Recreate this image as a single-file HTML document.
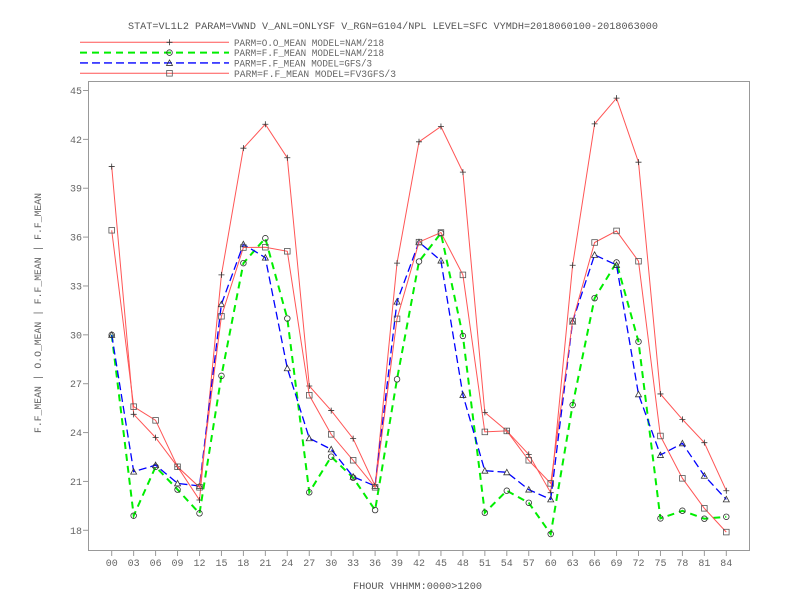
<!DOCTYPE html>
<html><head><meta charset="utf-8"><style>
html,body{margin:0;padding:0;background:#fff;}
svg{display:block;font-family:"Liberation Mono",monospace;}
</style></head><body>
<svg id="chart" width="792" height="612" viewBox="0 0 792 612" xmlns="http://www.w3.org/2000/svg">
<text x="128" y="29" font-size="10" fill="#555" textLength="530" lengthAdjust="spacingAndGlyphs">STAT=VL1L2 PARAM=VWND V_ANL=ONLYSF V_RGN=G104/NPL LEVEL=SFC VYMDH=2018060100-2018063000</text>
<rect x="88.5" y="81.5" width="661" height="469" fill="none" stroke="#999" stroke-width="1"/>
<text transform="translate(41,313) rotate(-90)" font-size="9.7" fill="#666" text-anchor="middle" textLength="240" lengthAdjust="spacingAndGlyphs">F.F_MEAN | O.O_MEAN | F.F_MEAN | F.F_MEAN</text>
<text x="353" y="589" font-size="10" fill="#555" textLength="129" lengthAdjust="spacingAndGlyphs">FHOUR VHHMM:0000&gt;1200</text>
<g id="axes"></g>
<g id="series"></g>
<g id="legend"></g>
</svg>
<script>
const categories = ["00","03","06","09","12","15","18","21","24","27","30","33","36","39","42","45","48","51","54","57","60","63","66","69","72","75","78","81","84"];
const yTicks = [18,21,24,27,30,33,36,39,42,45];
const obsNam = [40.33,25.12,23.69,21.9,19.86,33.68,41.46,42.93,40.87,26.86,25.35,23.63,20.72,34.4,41.85,42.79,39.99,25.24,24.1,22.66,20.31,34.27,42.95,44.53,40.6,26.37,24.81,23.38,20.43];
const fcstNam = [30.0,18.9,21.9,20.5,19.04,27.48,34.4,35.93,31.0,20.33,22.52,21.23,19.24,27.27,34.5,36.24,29.93,19.08,20.43,19.69,17.77,25.69,32.25,34.44,29.58,18.73,19.2,18.71,18.83];
const fcstGfs = [30.0,21.6,22.0,20.88,20.72,31.88,35.56,34.74,27.95,23.65,22.97,21.29,20.72,32.04,35.69,34.56,26.31,21.66,21.56,20.5,19.9,30.81,34.91,34.29,26.35,22.62,23.34,21.35,19.9];
const fcstFv3 = [36.42,25.59,24.75,21.9,20.64,31.14,35.36,35.38,35.13,26.29,23.89,22.3,20.64,30.98,35.69,36.28,33.68,24.04,24.1,22.3,20.88,30.85,35.67,36.38,34.52,23.79,21.19,19.35,17.89];
const seriesLabels = ["PARM=O.O_MEAN MODEL=NAM/218","PARM=F.F_MEAN MODEL=NAM/218","PARM=F.F_MEAN MODEL=GFS/3","PARM=F.F_MEAN MODEL=FV3GFS/3"];

const NS="http://www.w3.org/2000/svg";
function xPos(i){return 111.7 + i*(726.3-111.7)/(categories.length-1);}
function yPos(v){return 90.5 + (45-v)*(530.3-90.5)/27;}
function mk(tag,attrs,parent){const e=document.createElementNS(NS,tag);for(const k in attrs)e.setAttribute(k,attrs[k]);parent.appendChild(e);return e;}
const axes=document.getElementById('axes');
yTicks.forEach(t=>{
  const y=yPos(t);
  const l=mk('line',{x1:83,x2:88.5,y1:y,y2:y,stroke:'#999'},axes);
  
  
  const tx=mk('text',{x:82,y:y+3.5,'font-size':10,fill:'#666','text-anchor':'end'},axes);
  
  
  tx.textContent=t;
});
categories.forEach((c,i)=>{
  const x=xPos(i);
  const l=mk('line',{x1:x,x2:x,y1:550.5,y2:556,stroke:'#999'},axes);
  
  
  const tx=mk('text',{x:x,y:566,'font-size':10,fill:'#666','text-anchor':'middle'},axes);
  
  
  tx.textContent=c;
});
function marker(type,x,y,g){
  let e;
  if(type==='plus'){e=mk('path',{d:`M${x-3} ${y}H${x+3}M${x} ${y-3}V${y+3}`,stroke:'#333','stroke-width':0.8,fill:'none'},g);}
  else if(type==='circle'){e=mk('circle',{cx:x,cy:y,r:2.8,stroke:'#333','stroke-width':0.8,fill:'none'},g);}
  else if(type==='tri'){e=mk('path',{d:`M${x} ${y-3}L${x+3} ${y+2.5}L${x-3} ${y+2.5}Z`,stroke:'#333','stroke-width':0.8,fill:'none'},g);}
  else {e=mk('rect',{x:x-2.8,y:y-2.8,width:5.6,height:5.6,stroke:'#555','stroke-width':0.8,fill:'none'},g);}
  
  
}
const defs=[
  {data:obsNam,color:'#ff5555',w:1,dash:'',m:'plus',name:'series-obs-nam'},
  {data:fcstNam,color:'#00ee00',w:2,dash:'7,5',m:'circle',name:'series-fcst-nam'},
  {data:fcstGfs,color:'#0000ff',w:1.3,dash:'8,4',m:'tri',name:'series-fcst-gfs'},
  {data:fcstFv3,color:'#ff5555',w:1,dash:'',m:'square',name:'series-fcst-fv3gfs'}
];
const legendW=[150,150,138,162];
const sg=document.getElementById('series');
const lg=document.getElementById('legend');
defs.forEach((d,k)=>{
  const g=mk('g',{},sg);
  
  
  const pts=d.data.map((v,i)=>xPos(i).toFixed(1)+','+yPos(v).toFixed(1)).join(' ');
  const pl=mk('polyline',{points:pts,fill:'none',stroke:d.color,'stroke-width':d.w,'stroke-dasharray':d.dash},g);
  
  
  d.data.forEach((v,i)=>marker(d.m,xPos(i),yPos(v),g));
  const ly=42.3+k*10.33;
  const eg=mk('g',{},lg);
  
  
  mk('line',{x1:80,x2:229,y1:ly,y2:ly,stroke:d.color,'stroke-width':d.w,'stroke-dasharray':d.dash},eg);
  marker(d.m,169.5,ly,eg);
  const t=mk('text',{x:234,y:ly+3.5,'font-size':10,fill:'#666',textLength:legendW[k],lengthAdjust:'spacingAndGlyphs'},eg);
  
  
  t.textContent=seriesLabels[k];
});
</script>
</body></html>
